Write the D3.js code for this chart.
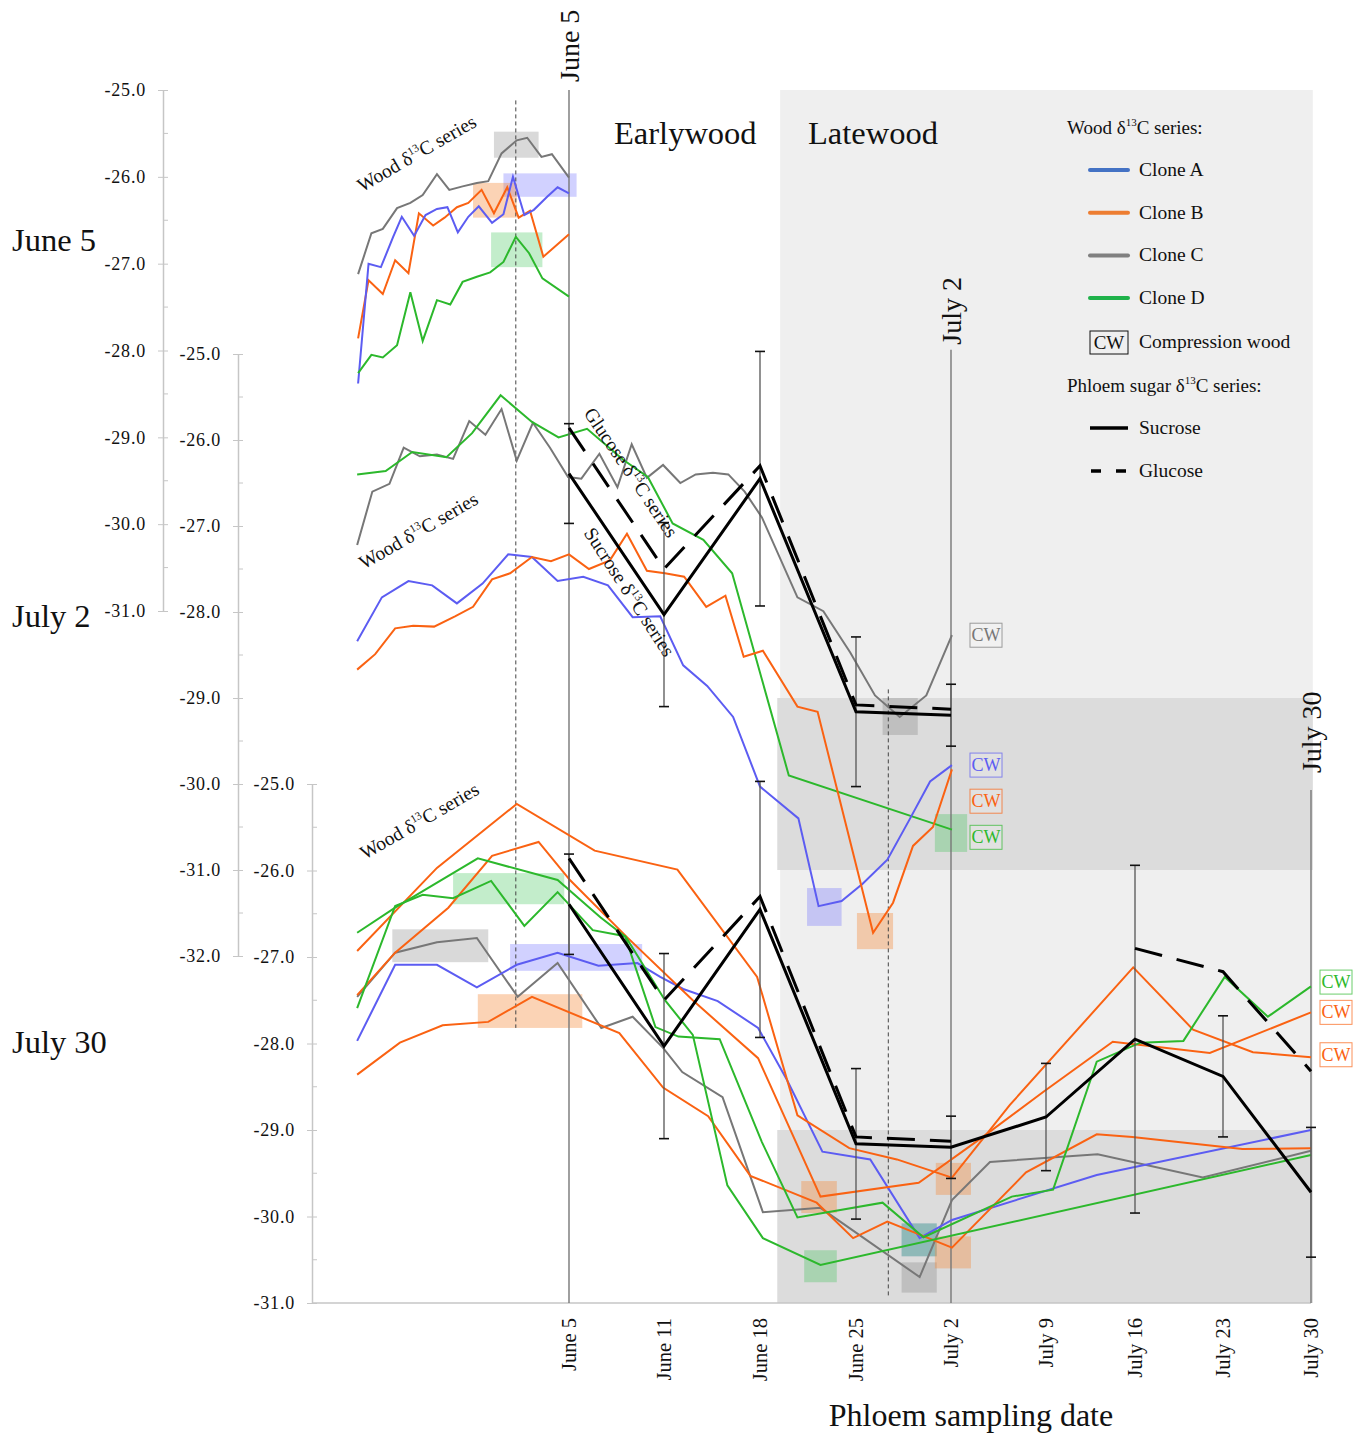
<!DOCTYPE html>
<html>
<head>
<meta charset="utf-8">
<script src="https://cdn.jsdelivr.net/npm/d3@7"></script>
<style>
  body { margin: 0; background: #fff; }
  svg text { font-family: "Liberation Serif", "Times New Roman", serif; fill: #111; }
</style>
</head>
<body>
<svg id="chart" width="1363" height="1434"></svg>
<script>
// phloem sampling dates (t = week index, 0 = June 5)
const dates = ["June 5", "June 11", "June 18", "June 25", "July 2", "July 9", "July 16", "July 23", "July 30"];
const sucrose = [-26.39, -28.03, -26.45, -29.16, -29.2, -28.85, -27.95, -28.38, -29.72];
const sucroseSD = [0.58, 1.07, 1.48, 0.87, 0.36, 0.62, 2.01, 0.70, 0.75];
const glucose = [-25.86, -27.5, -26.3, -29.08, -29.13, null, -26.9, -27.17, -28.32];

// wood d13C series, [t, value] (t = estimated formation time in weeks from June 5)
// panel 1: wood formed by June 5
const woodA1 = [[-2.22,-28.38],[-2.11,-27.00],[-1.98,-27.04],[-1.85,-26.69],[-1.76,-26.46],[-1.63,-26.68],[-1.51,-26.44],[-1.39,-26.37],[-1.28,-26.35],[-1.17,-26.64],[-1.06,-26.46],[-0.95,-26.34],[-0.81,-26.53],[-0.69,-26.43],[-0.59,-26.00],[-0.47,-26.44],[-0.37,-26.38],[-0.23,-26.23],[-0.12,-26.12],[0,-26.19]];
const woodB1 = [[-2.22,-27.86],[-2.11,-27.19],[-1.96,-27.35],[-1.83,-26.96],[-1.69,-27.11],[-1.58,-26.42],[-1.43,-26.56],[-1.31,-26.47],[-1.18,-26.35],[-1.06,-26.30],[-0.92,-26.15],[-0.79,-26.42],[-0.65,-26.12],[-0.53,-26.47],[-0.41,-26.39],[-0.27,-26.92],[0,-26.66]];
const woodC1 = [[-2.22,-27.12],[-2.08,-26.65],[-1.96,-26.60],[-1.81,-26.36],[-1.67,-26.30],[-1.54,-26.21],[-1.39,-25.97],[-1.26,-26.15],[-1.12,-26.11],[-0.97,-26.07],[-0.85,-26.05],[-0.71,-25.73],[-0.55,-25.58],[-0.44,-25.55],[-0.29,-25.77],[-0.18,-25.74],[0,-26.01]];
const woodD1 = [[-2.22,-28.26],[-2.08,-28.05],[-1.96,-28.08],[-1.81,-27.94],[-1.67,-27.33],[-1.54,-27.89],[-1.39,-27.42],[-1.25,-27.47],[-1.12,-27.21],[-0.97,-27.15],[-0.83,-27.10],[-0.69,-26.98],[-0.56,-26.69],[-0.42,-26.88],[-0.28,-27.17],[0,-27.38]];
// panel 2: wood formed by July 2
const woodA2 = [[-2.23,-28.34],[-1.97,-27.83],[-1.69,-27.64],[-1.44,-27.69],[-1.18,-27.90],[-0.91,-27.67],[-0.64,-27.33],[-0.39,-27.36],[-0.12,-27.64],[0.15,-27.59],[0.41,-27.69],[0.67,-28.06],[0.96,-28.05],[1.20,-28.62],[1.45,-28.86],[1.72,-29.22],[2.00,-30.03],[2.40,-30.40],[2.61,-31.42],[2.85,-31.36],[3.07,-31.16],[3.33,-30.88],[3.56,-30.42],[3.78,-29.97],[4.01,-29.78]];
const woodB2 = [[-2.23,-28.67],[-2.04,-28.49],[-1.83,-28.19],[-1.64,-28.16],[-1.42,-28.17],[-1.20,-28.05],[-1.01,-27.94],[-0.81,-27.62],[-0.62,-27.55],[-0.39,-27.36],[-0.19,-27.41],[0,-27.33],[0.21,-27.50],[0.43,-27.40],[0.61,-27.09],[0.82,-27.52],[1.01,-27.55],[1.21,-27.59],[1.44,-27.94],[1.64,-27.81],[1.83,-28.52],[2.03,-28.45],[2.39,-29.10],[2.60,-29.16],[3.18,-31.73],[3.39,-31.38],[3.60,-30.72],[3.81,-30.50],[4.01,-29.83]];
const woodC2 = [[-2.23,-27.22],[-2.07,-26.60],[-1.89,-26.51],[-1.74,-26.09],[-1.57,-26.19],[-1.39,-26.17],[-1.22,-26.22],[-1.05,-25.78],[-0.88,-25.94],[-0.71,-25.64],[-0.55,-26.24],[-0.38,-25.80],[-0.20,-26.09],[-0.01,-26.43],[0.13,-26.45],[0.32,-26.16],[0.51,-26.55],[0.66,-26.05],[0.82,-26.44],[0.99,-26.29],[1.17,-26.50],[1.33,-26.40],[1.51,-26.38],[1.67,-26.40],[1.84,-26.60],[2.02,-26.90],[2.39,-27.83],[2.66,-27.99],[2.94,-28.47],[3.20,-28.97],[3.46,-29.22],[3.74,-28.97],[4.01,-28.27]];
const woodD2 = [[-2.23,-26.40],[-1.93,-26.36],[-1.65,-26.14],[-1.29,-26.20],[-1.02,-25.92],[-0.72,-25.48],[-0.39,-25.79],[-0.11,-25.97],[0.19,-25.87],[0.57,-26.23],[0.83,-26.43],[1.09,-26.97],[1.41,-27.16],[1.71,-27.55],[2.30,-29.90],[4.01,-30.53]];
// panel 3: wood formed by July 30
const woodA3 = [[-2.23,-27.97],[-1.83,-27.09],[-1.39,-27.09],[-0.97,-27.35],[-0.55,-27.09],[-0.12,-26.95],[0.31,-27.10],[0.72,-27.07],[0.96,-27.23],[1.20,-27.37],[1.56,-27.51],[1.98,-27.82],[2.28,-28.42],[2.65,-29.25],[3.15,-29.34],[3.67,-30.25],[4.01,-30.04],[5.57,-29.52],[8.0,-29.00]];
const woodB3a = [[-2.23,-26.93],[-1.39,-25.97],[-0.55,-25.23],[0.27,-25.77],[1.14,-25.99],[1.97,-27.23],[2.39,-28.83],[2.93,-29.21],[3.43,-29.34],[4.01,-29.55],[4.62,-28.71],[5.98,-27.12],[6.66,-27.84],[7.34,-28.10],[8.0,-28.16]];
const woodB3b = [[-2.23,-27.44],[-1.83,-26.95],[-1.27,-26.43],[-0.81,-25.83],[-0.32,-25.67],[0.01,-26.11],[0.61,-26.77],[1.30,-27.50],[1.98,-28.17],[2.63,-29.77],[3.66,-29.61],[4.31,-29.10],[4.97,-28.56],[5.75,-27.98],[6.85,-28.11],[8.0,-27.64]];
const woodB3c = [[-2.23,-28.36],[-1.78,-27.99],[-1.33,-27.79],[-0.85,-27.75],[-0.39,-27.46],[0.53,-27.88],[0.99,-28.51],[1.46,-28.84],[1.90,-29.53],[2.59,-29.84],[2.97,-30.25],[3.33,-30.06],[4.01,-30.36],[4.79,-29.49],[5.57,-29.05],[5.97,-29.08],[7.22,-29.22],[8.0,-29.21]];
const woodC3 = [[-2.23,-27.46],[-1.83,-26.95],[-1.39,-26.83],[-0.97,-26.78],[-0.54,-27.46],[-0.12,-27.07],[0.34,-27.82],[0.67,-27.69],[0.99,-28.05],[1.19,-28.33],[1.61,-28.62],[2.03,-29.95],[2.63,-29.90],[3.67,-30.70],[4.01,-29.81],[4.41,-29.37],[5.58,-29.28],[6.77,-29.55],[8.0,-29.24]];
const woodD3a = [[-2.23,-27.59],[-1.83,-26.41],[-1.54,-26.28],[-1.22,-26.32],[-0.82,-26.12],[-0.47,-26.64],[-0.12,-26.25],[0.25,-26.69],[0.59,-26.76],[0.91,-27.81],[1.15,-27.92],[1.58,-27.95],[2.02,-29.14],[2.39,-30.01],[3.28,-29.84],[3.71,-30.24],[4.64,-29.77],[5.08,-29.69],[5.57,-28.21],[6.06,-27.99],[6.55,-27.97],[7.02,-27.23],[7.51,-27.69],[8.0,-27.34]];
const woodD3b = [[-2.23,-26.72],[-1.83,-26.43],[-0.96,-25.86],[-0.12,-26.11],[0.33,-26.54],[0.60,-26.77],[1.01,-27.50],[1.30,-27.90],[1.66,-29.64],[2.03,-30.25],[2.63,-30.56],[8.0,-29.29]];

const woodSeries = [
  {panel: 0, clone: "C", pts: woodC1}, {panel: 0, clone: "B", pts: woodB1},
  {panel: 0, clone: "A", pts: woodA1}, {panel: 0, clone: "D", pts: woodD1},
  {panel: 1, clone: "C", pts: woodC2}, {panel: 1, clone: "D", pts: woodD2},
  {panel: 1, clone: "A", pts: woodA2}, {panel: 1, clone: "B", pts: woodB2},
  {panel: 2, clone: "C", pts: woodC3}, {panel: 2, clone: "A", pts: woodA3},
  {panel: 2, clone: "B", pts: woodB3a}, {panel: 2, clone: "B", pts: woodB3b},
  {panel: 2, clone: "B", pts: woodB3c}, {panel: 2, clone: "D", pts: woodD3a},
  {panel: 2, clone: "D", pts: woodD3b}
];

// compression wood zones: [panel, t0, t1, v0, v1, clone]
const cwZones = [
  [0, -0.79, -0.32, -25.48, -25.78, "C"], [0, -0.69, 0.08, -25.96, -26.23, "A"],
  [0, -1.01, -0.55, -26.07, -26.47, "B"], [0, -0.82, -0.28, -26.64, -27.04, "D"],
  [1, 3.28, 3.65, -29.0, -29.43, "C"], [1, 2.49, 2.85, -31.21, -31.65, "A"],
  [1, 3.01, 3.39, -31.5, -31.92, "B"], [1, 3.83, 4.17, -30.35, -30.79, "D"],
  [2, -1.22, -0.05, -26.03, -26.39, "D"], [2, -1.86, -0.85, -26.68, -27.06, "C"],
  [2, -0.62, 0.77, -26.85, -27.16, "A"], [2, -0.96, 0.14, -27.43, -27.82, "B"],
  [2, 2.43, 2.80, -29.59, -29.96, "B"], [2, 3.84, 4.21, -29.38, -29.75, "B"],
  [2, 2.46, 2.80, -30.39, -30.76, "D"], [2, 3.48, 3.85, -30.08, -30.46, "A"],
  [2, 3.48, 3.85, -30.08, -30.46, "D"], [2, 3.48, 3.85, -30.53, -30.88, "C"],
  [2, 3.83, 4.21, -30.23, -30.60, "B"]
];
// CW tags at series ends: [panel, value, clone]
const cwTags = [
  [1, -28.27, "C"], [1, -29.78, "A"], [1, -30.2, "B"], [1, -30.62, "D"],
  [2, -27.29, "D"], [2, -27.64, "B"], [2, -28.13, "B"]
];

const cloneNames = ["A", "B", "C", "D"];
const lineColor = {A: "#5c5cf2", B: "#fa6212", C: "#777777", D: "#2cb82c"};
const legendColor = {A: "#4472c4", B: "#ed7d31", C: "#808080", D: "#1fb24a"};
const boxColor = {A: "rgba(90,90,255,0.28)", B: "rgba(245,140,60,0.38)", C: "rgba(120,120,120,0.28)", D: "rgba(40,190,70,0.28)"};

// ---------- scales ----------
const x = d3.scaleLinear().domain(d3.range(9)).range([569, 664, 760, 856, 951, 1046, 1135, 1223, 1311]);
const panels = [
  {label: "June 5", y: d3.scaleLinear().domain([-25, -31]).range([90, 611]), min: -31, axisX: 163, end: 0, labelY: 251},
  {label: "July 2", y: d3.scaleLinear().domain([-25, -32]).range([354, 956]), min: -32, axisX: 238, end: 4, labelY: 627},
  {label: "July 30", y: d3.scaleLinear().domain([-25, -31]).range([784, 1303]), min: -31, axisX: 312, end: 8, labelY: 1053}
];
const latewoodStart = 2.21, rightEdge = 8.02;

const svg = d3.select("#chart");

// ---------- background shading ----------
svg.append("rect")
  .attr("x", x(latewoodStart)).attr("y", panels[0].y(-25))
  .attr("width", x(rightEdge) - x(latewoodStart))
  .attr("height", panels[2].y(-31) - panels[0].y(-25))
  .attr("fill", "#efefef");
[1, 2].forEach(i => {
  const p = panels[i];
  svg.append("rect")
    .attr("x", x(latewoodStart - 0.03)).attr("y", p.y(-29))
    .attr("width", x(rightEdge) - x(latewoodStart - 0.03))
    .attr("height", p.y(-31) - p.y(-29))
    .attr("fill", "#dcdcdc");
});

// compression wood boxes
svg.append("g").selectAll("rect").data(cwZones).join("rect")
  .attr("x", d => x(d[1])).attr("y", d => panels[d[0]].y(d[3]))
  .attr("width", d => x(d[2]) - x(d[1]))
  .attr("height", d => panels[d[0]].y(d[4]) - panels[d[0]].y(d[3]))
  .attr("fill", d => boxColor[d[5]]);

// ---------- y axes ----------
panels.forEach(p => {
  const majors = d3.range(-25, p.min - 0.01, -1);
  const g = svg.append("g").attr("transform", `translate(${p.axisX},0)`)
    .call(d3.axisLeft(p.y).tickValues(majors).tickFormat(d => d.toFixed(1))
      .tickSizeInner(5).tickSizeOuter(0).tickPadding(12));
  g.select(".domain").attr("stroke", "#c6c6c6").attr("stroke-width", 1.5);
  g.selectAll(".tick line").attr("x1", 5).attr("stroke", "#c6c6c6");
  g.selectAll(".tick text").attr("font-size", 18).attr("fill", "#222")
    .attr("letter-spacing", 0.8).attr("font-family", "Liberation Serif, serif");
  g.selectAll(".minor").data(majors.slice(0, -1).map(v => v - 0.5)).join("line")
    .attr("x1", 0).attr("x2", 5).attr("y1", d => p.y(d)).attr("y2", d => p.y(d))
    .attr("stroke", "#c6c6c6");
  svg.append("text").attr("x", 12).attr("y", p.labelY)
    .attr("font-size", 32.5).text(p.label);
});
// bottom baseline
svg.append("line")
  .attr("x1", panels[2].axisX).attr("x2", x(8))
  .attr("y1", panels[2].y(-31)).attr("y2", panels[2].y(-31))
  .attr("stroke", "#c6c6c6").attr("stroke-width", 1.5);

// ---------- reference lines ----------
const vlines = [
  {t: 0, top: panels[0].y(-25), gap: 8, label: "June 5"},
  {t: 4, top: panels[1].y(-24.95), gap: 5, label: "July 2"},
  {t: 8, top: panels[2].y(-25.07), gap: 17, label: "July 30"}
];
vlines.forEach(v => {
  svg.append("line").attr("x1", x(v.t)).attr("x2", x(v.t))
    .attr("y1", v.top).attr("y2", panels[2].y(-31))
    .attr("stroke", "#777").attr("stroke-width", 1.4);
  svg.append("text")
    .attr("transform", `translate(${x(v.t) + 10},${v.top - v.gap}) rotate(-90)`)
    .attr("font-size", 28).text(v.label);
});
// dotted lines (ring boundaries)
svg.append("line").attr("x1", x(-0.56)).attr("x2", x(-0.56))
  .attr("y1", panels[0].y(-25.12)).attr("y2", panels[2].y(-27.82))
  .attr("stroke", "#444").attr("stroke-dasharray", "4,3");
svg.append("line").attr("x1", x(3.34)).attr("x2", x(3.34))
  .attr("y1", panels[1].y(-28.9)).attr("y2", panels[2].y(-30.92))
  .attr("stroke", "#444").attr("stroke-dasharray", "4,3");

// ---------- wood series ----------
woodSeries.forEach(s => {
  const p = panels[s.panel];
  const line = d3.line().x(d => x(d[0])).y(d => p.y(d[1]));
  svg.append("path").datum(s.pts).attr("d", line)
    .attr("fill", "none").attr("stroke", lineColor[s.clone])
    .attr("stroke-width", 2).attr("stroke-linejoin", "miter");
});

// ---------- phloem sugars ----------
[1, 2].forEach(i => {
  const p = panels[i];
  const idx = d3.range(p.end + 1);
  // error bars
  const eb = svg.append("g").selectAll("g").data(idx).join("g");
  eb.append("line").attr("x1", d => x(d)).attr("x2", d => x(d))
    .attr("y1", d => p.y(sucrose[d] + sucroseSD[d])).attr("y2", d => p.y(sucrose[d] - sucroseSD[d]))
    .attr("stroke", "#555").attr("stroke-width", 1.3);
  [1, -1].forEach(sgn => {
    eb.append("line").attr("x1", d => x(d) - 5).attr("x2", d => x(d) + 5)
      .attr("y1", d => p.y(sucrose[d] + sgn * sucroseSD[d]))
      .attr("y2", d => p.y(sucrose[d] + sgn * sucroseSD[d]))
      .attr("stroke", "#111").attr("stroke-width", 1.6);
  });
  const gl = d3.line().defined(d => glucose[d] !== null).x(d => x(d)).y(d => p.y(glucose[d]));
  svg.append("path").datum(idx).attr("d", gl)
    .attr("fill", "none").attr("stroke", "#000").attr("stroke-width", 3)
    .attr("stroke-dasharray", "28,15");
  const sl = d3.line().x(d => x(d)).y(d => p.y(sucrose[d]));
  svg.append("path").datum(idx).attr("d", sl)
    .attr("fill", "none").attr("stroke", "#000").attr("stroke-width", 3);
});

// CW tags
const tagW = 32, tagH = 24;
const tags = svg.append("g").selectAll("g").data(cwTags).join("g")
  .attr("transform", d => `translate(${x(panels[d[0]].end) + (d[0] === 1 ? 19 : 9)},${panels[d[0]].y(d[1]) - tagH / 2})`);
tags.append("rect").attr("width", tagW).attr("height", tagH)
  .attr("fill", "#fff").attr("fill-opacity", 0.15)
  .attr("stroke", d => lineColor[d[2]]).attr("stroke-opacity", 0.7);
tags.append("text").attr("x", tagW / 2).attr("y", 18).attr("text-anchor", "middle")
  .attr("font-size", 18).style("fill", d => lineColor[d[2]]).text("CW");

// ---------- annotations ----------
function d13(sel, before, after, size) {
  sel.append("tspan").text(before + "δ");
  sel.append("tspan").attr("dy", -size * 0.4).attr("font-size", size * 0.58).text("13");
  sel.append("tspan").attr("dy", size * 0.4).text("C" + after);
}
const notes = [
  {panel: 0, t: -2.18, v: -26.18, rot: -30, pre: "Wood "},
  {panel: 1, t: -2.16, v: -27.51, rot: -30, pre: "Wood "},
  {panel: 2, t: -2.15, v: -25.88, rot: -30, pre: "Wood "},
  {panel: 1, t: 0.15, v: -25.69, rot: 56, pre: "Glucose "},
  {panel: 1, t: 0.15, v: -27.08, rot: 57, pre: "Sucrose "}
];
notes.forEach(n => {
  const t = svg.append("text").attr("font-size", 19.5)
    .attr("transform", `translate(${x(n.t)},${panels[n.panel].y(n.v)}) rotate(${n.rot})`);
  d13(t, n.pre, " series", 19.5);
});
svg.append("text").attr("x", 614).attr("y", 144).attr("font-size", 32.5).text("Earlywood");
svg.append("text").attr("x", 808).attr("y", 144).attr("font-size", 32.5).text("Latewood");

// ---------- x axis labels ----------
svg.append("g").selectAll("text").data(dates).join("text")
  .attr("transform", (d, i) => `translate(${x(i) + 7},1318) rotate(-90)`)
  .attr("text-anchor", "end").attr("font-size", 20.5).text(d => d);
svg.append("text").attr("x", 971).attr("y", 1426).attr("text-anchor", "middle")
  .attr("font-size", 32).text("Phloem sampling date");

// ---------- legend ----------
const lg = svg.append("g").attr("transform", "translate(1067,0)");
d13(lg.append("text").attr("x", 0).attr("y", 134).attr("font-size", 19), "Wood ", " series:", 19);
cloneNames.forEach((c, i) => {
  const yy = 170 + i * 42.7;
  lg.append("line").attr("x1", 23).attr("x2", 61).attr("y1", yy).attr("y2", yy)
    .attr("stroke", legendColor[c]).attr("stroke-width", 4).attr("stroke-linecap", "round");
  lg.append("text").attr("x", 72).attr("y", yy + 6).attr("font-size", 19.5).text("Clone " + c);
});
lg.append("rect").attr("x", 23).attr("y", 331).attr("width", 38).attr("height", 23)
  .attr("fill", "none").attr("stroke", "#111");
lg.append("text").attr("x", 42).attr("y", 349).attr("text-anchor", "middle").attr("font-size", 19).text("CW");
lg.append("text").attr("x", 72).attr("y", 348).attr("font-size", 19.5).text("Compression wood");
d13(lg.append("text").attr("x", 0).attr("y", 392).attr("font-size", 19), "Phloem sugar ", " series:", 19);
lg.append("line").attr("x1", 23).attr("x2", 61).attr("y1", 428).attr("y2", 428)
  .attr("stroke", "#000").attr("stroke-width", 3.5);
lg.append("text").attr("x", 72).attr("y", 434).attr("font-size", 19.5).text("Sucrose");
lg.append("line").attr("x1", 24).attr("x2", 61).attr("y1", 471).attr("y2", 471)
  .attr("stroke", "#000").attr("stroke-width", 3.5).attr("stroke-dasharray", "10,15");
lg.append("text").attr("x", 72).attr("y", 477).attr("font-size", 19.5).text("Glucose");
</script>
</body>
</html>
